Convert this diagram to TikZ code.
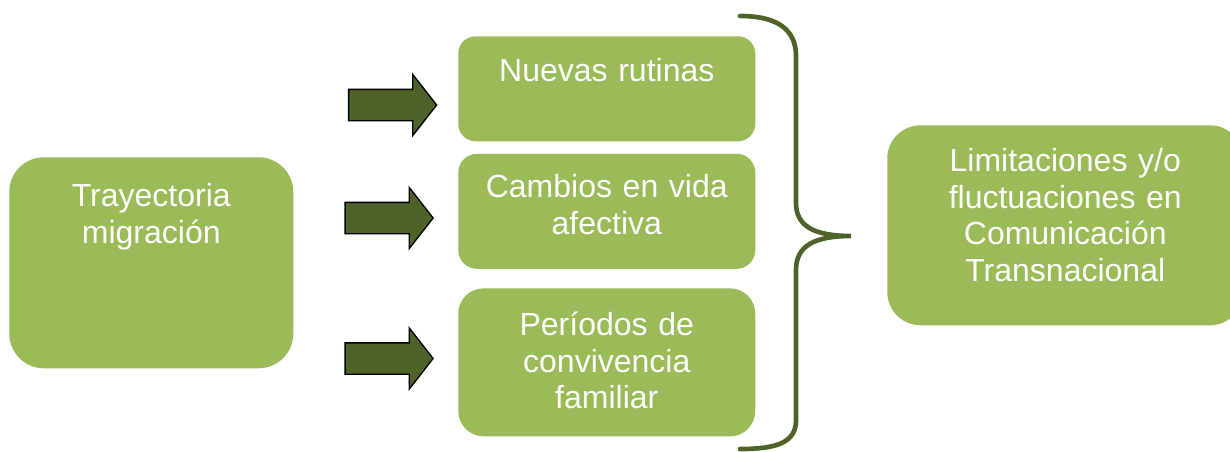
\documentclass[tikz,border=0pt]{standalone}
\usepackage{fontspec}
\setmainfont{Liberation Sans}
\usepackage{tikz}
\usetikzlibrary{shapes.arrows}
\usetikzlibrary{positioning}

\definecolor{boxgreen}{HTML}{9BBB59}
\definecolor{darkolive}{HTML}{4F6228}

\begin{document}
\begin{tikzpicture}[x=0.75pt,y=-0.75pt,
    box/.style={fill=boxgreen, text=white, inner sep=0pt, align=center,
        font=\fontsize{24}{27.6}\selectfont},
    blockarrow/.style={single arrow, draw=black, line width=1pt, fill=darkolive,
        inner sep=11.25pt, minimum height=66pt, minimum width=45pt,
        single arrow head extend=11.25pt, single arrow tip angle=104},
    brace/.style={draw=darkolive, line width=3.5pt, line cap=round}]
        \useasboundingbox (0,0) rectangle (1230,451);

        % left box
        \node[box, anchor=north west, text width=213pt, text height=36.75pt,
            text depth=121.5pt, rounded corners=26pt] (tray) at (9,157)
            {Trayectoria\\migraci\'on};

        % middle column
        \node[box, anchor=north west, text width=222.75pt, text height=33.75pt,
            text depth=45pt, rounded corners=13pt] (rut) at (458,36)
            {Nuevas rutinas};
        \node[box, below=9pt of rut, text width=222.75pt, text height=33pt,
            text depth=53.25pt, rounded corners=14pt] (afec)
            {Cambios en vida\\afectiva};
        \node[box, below=14.25pt of afec, text width=222.75pt, text height=35.25pt,
            text depth=75.75pt, rounded corners=19pt] (conv)
            {Per\'iodos de\\convivencia\\familiar};

        % right box
        \node[box, anchor=north west, text width=267pt, text height=34.5pt,
            text depth=115.5pt, rounded corners=25pt] (com) at (887,125)
            {Limitaciones y/o\\fluctuaciones en\\Comunicaci\'on\\Transnacional};

        % arrows
        \node[blockarrow] (a1) at (386.5,105) {};
        \node[blockarrow] (a2) at (383,218) {};
        \node[blockarrow] (a3) at (383,358.5) {};

        % brace
        \coordinate (tip) at (851,236);
        \draw[brace] (740,16) .. controls (778,16) and (796,30) .. (796,56)
            -- (796,203) .. controls (796,226) and (814,236) .. (tip)
            .. controls (814,236) and (796,246) .. (796,270)
            -- (796,420) .. controls (796,442) and (778,449) .. (740,449);
    \end{tikzpicture}
\end{document}
